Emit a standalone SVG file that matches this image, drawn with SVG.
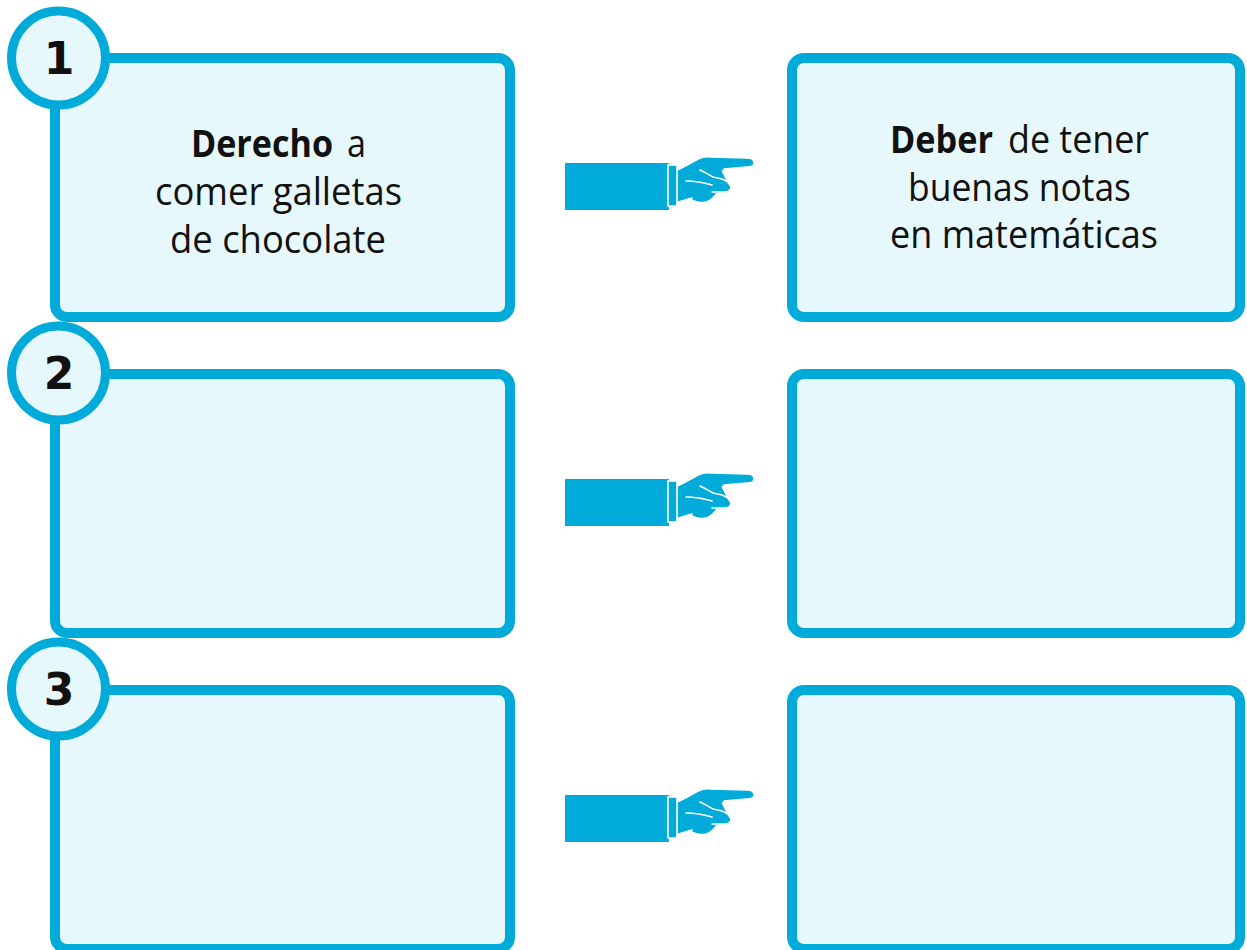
<svg xmlns="http://www.w3.org/2000/svg" width="1247" height="950" viewBox="0 0 1247 950">
<defs>
<style>
.box{fill:#e6f8fc;stroke:#00aad9;stroke-width:10}
.circ{fill:#e6f8fc;stroke:#00aad9;stroke-width:9}
.num{font-family:"DejaVu Sans",sans-serif;font-weight:bold;font-size:44px;fill:#111;text-anchor:middle}
.lbl{font-family:"Open Sans","Noto Sans",sans-serif;font-size:38px;fill:#111}
.b{font-weight:bold}
.arm{fill:#00aad9}
.wl{fill:none;stroke:#fff;stroke-width:1.6;stroke-linecap:round;stroke-linejoin:round}
</style>
<g id="hand">
<rect class="arm" x="565" y="163" width="104" height="47"/>
<path class="arm" d="M676,170 C683,167 690,163 697,159 C701,157 706,156 712,157 L747,158 C752,158 754,160 754,163 C754,166 751,167 747,167 L724,169 C722,170 721,171 722,172 L728,184 C731,186 731,191 727,192 L716,193 C714,196 711,199 707,201 C701,203 695,201 690,198 C685,199 680,201 676,202 Z"/>
<rect class="arm" x="668" y="165" width="9" height="41" stroke="#fff" stroke-width="1.6"/>
<path class="wl" d="M677,170 C684,167 691,163 698,159 C702,157 707,156 712,157 L747,158 C752,158 754,160 754,163 C754,166 751,167 747,167 L724,169"/>
<path class="wl" d="M700,170 C705,172 709,175 713,177 L722,179 C727,181 731,184 731,187 C731,191 728,192 724,192 L712,192"/>
<path class="wl" d="M686,181 C695,181 705,183 712,185"/>
<path class="wl" d="M677,203 C683,201 688,199 692,198"/>
</g>
</defs>

<g id="node-1-left">
<rect class="box" x="55" y="58" width="455" height="259" rx="12"/>
<text class="lbl b" x="191" y="157" textLength="142" lengthAdjust="spacingAndGlyphs">Derecho</text>
<text class="lbl" x="347" y="157" textLength="19" lengthAdjust="spacingAndGlyphs">a</text>
<text class="lbl" x="155" y="205" textLength="247" lengthAdjust="spacingAndGlyphs">comer galletas</text>
<text class="lbl" x="170" y="253" textLength="216" lengthAdjust="spacingAndGlyphs">de chocolate</text>
</g>
<g id="node-1-right">
<rect class="box" x="792" y="58" width="448" height="259" rx="12"/>
<text class="lbl b" x="890" y="153" textLength="103" lengthAdjust="spacingAndGlyphs">Deber</text>
<text class="lbl" x="1008" y="153" textLength="141" lengthAdjust="spacingAndGlyphs">de tener</text>
<text class="lbl" x="908" y="201" textLength="223" lengthAdjust="spacingAndGlyphs">buenas notas</text>
<text class="lbl" x="890" y="248" textLength="268" lengthAdjust="spacingAndGlyphs">en matemáticas</text>
</g>
<g id="badge-1">
<circle class="circ" cx="58.5" cy="58" r="47"/>
<text class="num" x="59" y="74">1</text>
</g>

<g id="node-2-left">
<rect class="box" x="55" y="374" width="455" height="259" rx="12"/>
</g>
<g id="node-2-right">
<rect class="box" x="792" y="374" width="448" height="259" rx="12"/>
</g>
<g id="badge-2">
<circle class="circ" cx="58.5" cy="373" r="47"/>
<text class="num" x="59" y="389">2</text>
</g>

<g id="node-3-left">
<rect class="box" x="55" y="690" width="455" height="259" rx="12"/>
</g>
<g id="node-3-right">
<rect class="box" x="792" y="690" width="448" height="259" rx="12"/>
</g>
<g id="badge-3">
<circle class="circ" cx="58.5" cy="689" r="47"/>
<text class="num" x="59" y="705">3</text>
</g>

<g id="connectors">
<use href="#hand"/>
<use href="#hand" transform="translate(0,316)"/>
<use href="#hand" transform="translate(0,632)"/>
</g>
</svg>
